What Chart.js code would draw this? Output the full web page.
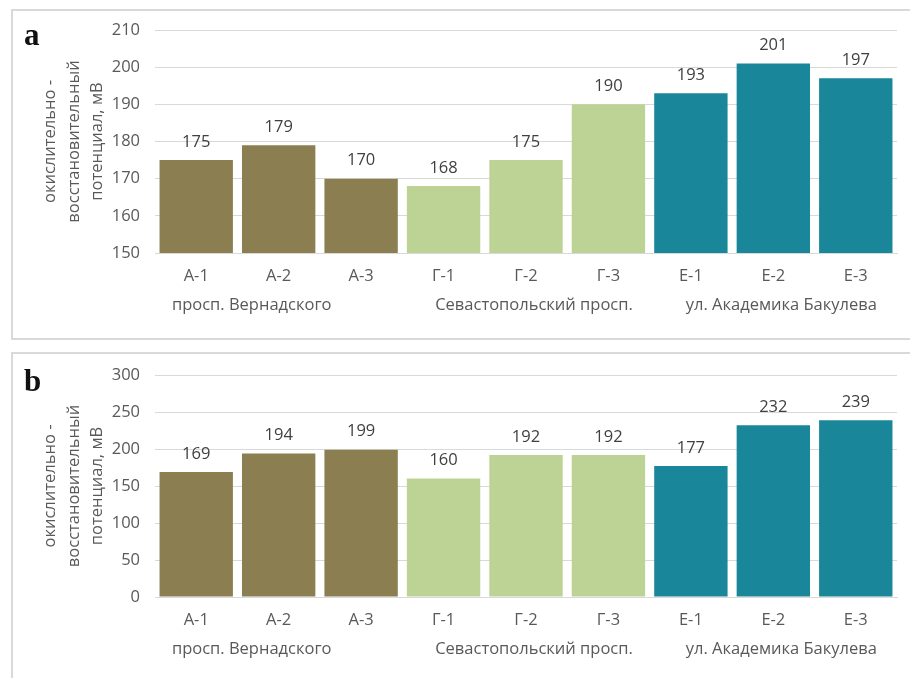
<!DOCTYPE html>
<html lang="ru">
<head>
    <meta charset="UTF-8">
    <title>Окислительно-восстановительный потенциал</title>
    <script src="https://cdn.jsdelivr.net/npm/chart.js"></script>
    <style>
        html, body { margin: 0; padding: 0; background: #fff; }
        body { width: 910px; height: 678px; position: relative; overflow: hidden; }
        .frame {
            position: absolute;
            left: 11px;
            width: 920px;
            border: 2px solid #d9d9d9;
        }
        .letter {
            position: absolute;
            left: 24px;
            font-family: 'Liberation Serif', serif;
            font-weight: bold;
            font-size: 31px;
            color: #111;
            line-height: 1;
        }
        canvas { position: absolute; left: 0; }
    </style>
</head>
<body>
    <div class="frame" style="top: 9px; height: 327px;"></div>
    <div class="frame" style="top: 352px; height: 340px;"></div>
    <canvas id="chartA" width="910" height="340" style="top: 0;"></canvas>
    <canvas id="chartB" width="910" height="338" style="top: 340px;"></canvas>
    <div class="letter" style="top: 19px;">a</div>
    <div class="letter" style="top: 365px;">b</div>

    <script>
        const categories = ['А-1', 'А-2', 'А-3', 'Г-1', 'Г-2', 'Г-3', 'Е-1', 'Е-2', 'Е-3'];
        const groupNames = ['просп. Вернадского', 'Севастопольский просп.', 'ул. Академика Бакулева'];
        const valuesA = [175, 179, 170, 168, 175, 190, 193, 201, 197];
        const valuesB = [169, 194, 199, 160, 192, 192, 177, 232, 239];
        const yTicksA = [150, 160, 170, 180, 190, 200, 210];
        const yTicksB = [0, 50, 100, 150, 200, 250, 300];
        const yTitle = ['окислительно -', 'восстановительный', 'потенциал, мВ'];

        const groupColors = ['#8b7f52', '#bdd396', '#1a8699'];
        const barColors = categories.map((c, i) => groupColors[Math.floor(i / 3)]);
        // the first group caption sits a little left of its centre
        const groupShift = [-27, 8, 8];

        const FONT = "'Open Sans', sans-serif";
        const SIZE = 16.5;

        // numbers above each bar
        const valueLabels = {
            id: 'valueLabels',
            afterDatasetsDraw(chart) {
                const ctx = chart.ctx;
                const meta = chart.getDatasetMeta(0);
                const data = chart.data.datasets[0].data;
                ctx.save();
                ctx.font = SIZE + 'px ' + FONT;
                ctx.fillStyle = '#404040';
                ctx.textAlign = 'center';
                ctx.textBaseline = 'middle';
                meta.data.forEach((bar, i) => {
                    ctx.fillText(String(data[i]), bar.x, bar.y - 18);
                });
                ctx.restore();
            }
        };

        // street names under each group of three sites
        const groupLabels = {
            id: 'groupLabels',
            afterDraw(chart) {
                const ctx = chart.ctx;
                const x = chart.scales.x;
                ctx.save();
                ctx.font = SIZE + 'px ' + FONT;
                ctx.fillStyle = '#595959';
                ctx.textAlign = 'center';
                ctx.textBaseline = 'middle';
                groupNames.forEach((name, g) => {
                    const cx = x.getPixelForValue(g * 3 + 1) + groupShift[g];
                    ctx.fillText(name, cx, chart.chartArea.bottom + 52);
                });
                ctx.restore();
            }
        };

        function makeChart(id, values, ticks, topPad, xHeight) {
            const step = ticks[1] - ticks[0];
            return new Chart(document.getElementById(id), {
                type: 'bar',
                data: {
                    labels: categories,
                    datasets: [{
                        data: values,
                        backgroundColor: barColors,
                        borderWidth: 0,
                        barPercentage: 0.89,
                        categoryPercentage: 1.0
                    }]
                },
                options: {
                    responsive: false,
                    animation: false,
                    events: [],
                    layout: { padding: { top: topPad, right: 13, left: 0, bottom: 0 } },
                    plugins: {
                        legend: { display: false },
                        tooltip: { enabled: false }
                    },
                    scales: {
                        x: {
                            grid: { display: false, drawTicks: false },
                            border: { display: true, color: '#d9d9d9', width: 1 },
                            ticks: {
                                color: '#595959',
                                font: { family: FONT, size: SIZE },
                                padding: 13,
                                maxRotation: 0
                            },
                            afterFit(scale) { scale.height = xHeight; }
                        },
                        y: {
                            min: ticks[0],
                            max: ticks[ticks.length - 1],
                            grid: { color: '#d9d9d9', lineWidth: 1, drawTicks: false },
                            border: { display: false },
                            ticks: {
                                stepSize: step,
                                color: '#595959',
                                font: { family: FONT, size: SIZE },
                                padding: 15
                            },
                            title: {
                                display: true,
                                text: yTitle,
                                color: '#595959',
                                font: { family: FONT, size: SIZE, lineHeight: 1.41 },
                                padding: { top: 39, bottom: 0 }
                            },
                            afterFit(scale) { scale.width = 155; }
                        }
                    }
                },
                plugins: [valueLabels, groupLabels]
            });
        }

        makeChart('chartA', valuesA, yTicksA, 30, 87);
        makeChart('chartB', valuesB, yTicksB, 35, 81);
    </script>
</body>
</html>
